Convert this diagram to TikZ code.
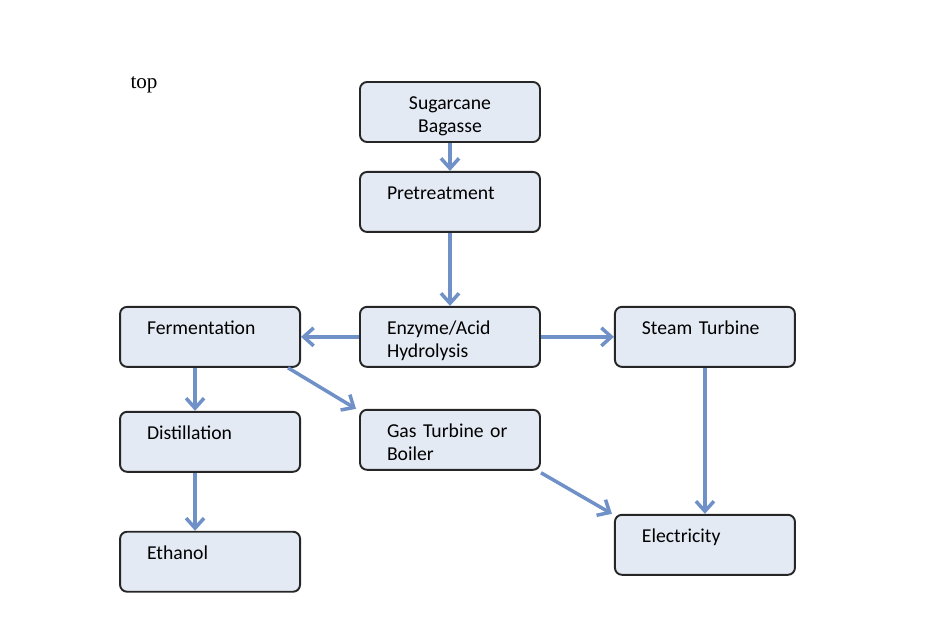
\documentclass[tikz,border=0pt]{standalone}
\usepackage{fontspec}
\setmainfont{Liberation Serif}
\newfontfamily\boxfont{Carlito}
\usepackage{xcolor}
\usepackage{tikz}
\usetikzlibrary{positioning,arrows.meta}

\definecolor{boxfill}{HTML}{E4EAF4}
\definecolor{flowblue}{HTML}{6F91C8}

\begin{document}
\begin{tikzpicture}[
    stage/.style={draw=black!85, line width=1.1pt, rounded corners=4pt, fill=boxfill,
        minimum width=3.6cm, minimum height=1.2cm, text width=2.52cm, align=left,
        inner xsep=0.54cm, inner ysep=2pt, text height=0.33cm, text depth=0.43cm,
        font=\boxfont\fontsize{11.2}{13.1}\selectfont},
    flow/.style={-{Straight Barb[length=0.2cm,width=0.36cm]}, draw=flowblue, line width=2pt}
]
\useasboundingbox (0,0) rectangle (18.72,-12.44);

\node[font=\fontsize{12}{14}\selectfont] (toplabel) at (2.88,-1.7) {top};

\node[stage, align=center] (bagasse) at (9.0,-2.24) {Sugarcane\\ Bagasse};
\node[stage, below=0.56cm of bagasse] (pretreat) {Pretreatment};
\node[stage, below=1.46cm of pretreat] (hydrolysis) {Enzyme/Acid\\ Hydrolysis};
\node[stage, left=1.16cm of hydrolysis] (ferment) {Fermentation};
\node[stage, right=1.46cm of hydrolysis] (steam) {Steam Turbine};
\node[stage, below=0.86cm of ferment] (distill) {Distillation};
\node[stage, below=0.82cm of hydrolysis] (gasturb) {Gas Turbine or\\ Boiler};
\node[stage, below=1.16cm of distill] (ethanol) {Ethanol};
\node[stage, below=2.92cm of steam] (electric) {Electricity};

\draw[flow] (bagasse) -- (pretreat);
\draw[flow] (pretreat) -- (hydrolysis);
\draw[flow] (hydrolysis) -- (ferment);
\draw[flow] (hydrolysis) -- (steam);
\draw[flow] ([xshift=-0.3cm]ferment.south) -- ([xshift=-0.3cm]distill.north);
\draw[flow] ([xshift=-0.3cm]distill.south) -- ([xshift=-0.3cm]ethanol.north);
\draw[flow] ([xshift=-0.26cm]ferment.south east) -- ([xshift=-0.06cm]gasturb.north west);
\draw[flow] (steam) -- (electric);
\draw[flow] ([yshift=-0.04cm]gasturb.south east) -- ([xshift=-0.04cm]electric.north west);
\end{tikzpicture}
\end{document}
